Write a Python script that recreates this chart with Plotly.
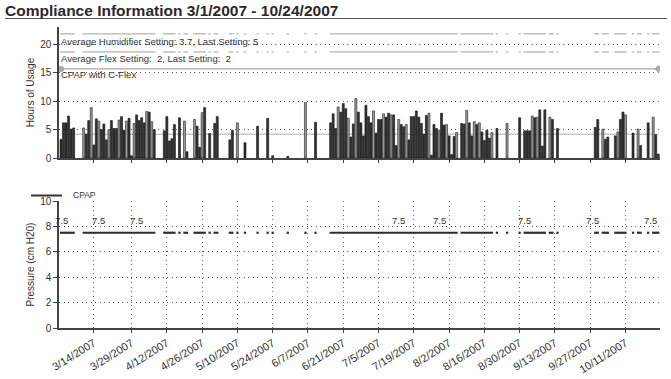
import plotly.graph_objects as go
import pandas as pd

# ---------------- data ----------------
start_date = "2007-03-01"
end_date = "2007-10-24"

# day offset from 3/1/2007 of each night with usage, and hours used
use_day = [0, 1, 2, 3, 4, 5, 9, 10, 11, 12, 13, 14, 15, 16, 17, 18, 19, 20, 21, 22,
           23, 24, 25, 26, 27, 28, 29, 30, 31, 32, 33, 34, 35, 36, 37, 41, 42, 43, 44, 45,
           47, 49, 50, 53, 54, 55, 56, 57, 59, 61, 62, 67, 68, 70, 73, 78, 82, 84, 90, 97,
           101, 107, 108, 109, 110, 111, 112, 113, 114, 115, 116, 117, 118, 119, 120, 121,
           122, 123, 124, 125, 126, 127, 128, 129, 130, 131, 132, 133, 134, 135, 136, 137,
           138, 139, 140, 141, 142, 143, 144, 145, 146, 147, 148, 149, 150, 151, 152, 153,
           154, 155, 156, 157, 159, 160, 161, 162, 163, 164, 165, 166, 167, 168, 169, 170,
           171, 173, 177, 182, 184, 185, 186, 187, 188, 189, 190, 191, 192, 194, 195, 197,
           212, 213, 215, 216, 217, 220, 221, 222, 223, 224, 227, 229, 230, 233, 235, 236, 237]
use_hours = [3.3, 6.2, 6.2, 7.4, 5.1, 5.3, 5.3, 4.2, 6.6, 8.9, 2.3, 6.9, 6.5, 5.0, 6.0, 3.2, 5.0, 6.6, 5.2, 5.2,
             6.7, 7.3, 4.9, 6.5, 7.0, 0.4, 6.1, 7.6, 6.6, 7.1, 6.2, 8.2, 8.1, 6.4, 5.0, 4.8, 7.3, 3.0, 3.4, 5.9,
             7.1, 6.5, 1.1, 6.8, 5.6, 1.9, 8.0, 8.9, 4.3, 6.1, 7.3, 3.2, 4.9, 6.2, 2.7, 5.6, 7.0, 0.4, 0.3, 9.8,
             6.3, 6.2, 7.8, 5.2, 9.0, 8.1, 9.6, 8.7, 7.0, 3.7, 6.0, 10.5, 8.1, 6.2, 3.9, 9.3,
             7.3, 6.2, 8.3, 4.4, 6.8, 6.8, 7.8, 7.2, 7.9, 7.6, 7.6, 2.2, 6.8, 5.9, 5.5, 5.9,
             3.2, 7.3, 7.3, 8.3, 7.2, 6.1, 4.2, 7.5, 7.9, 0.5, 5.9, 5.2, 4.9, 7.9, 5.8, 5.9,
             3.9, 0.6, 3.8, 4.5, 6.1, 6.0, 8.4, 6.2, 3.9, 6.4, 5.9, 6.2, 4.6, 3.1, 4.9, 3.5,
             4.5, 5.2, 6.1, 7.1, 4.8, 4.8, 4.8, 7.4, 7.1, 7.2, 8.5, 2.1, 8.5, 7.2, 6.8, 5.2,
             5.4, 6.8, 5.1, 3.3, 3.7, 3.9, 4.6, 6.8, 8.1, 7.6, 4.4, 5.1, 2.2, 6.2, 7.2, 4.1, 0.7]
# nights whose bar is printed in the lighter shade
light_day = [9, 12, 15, 19, 23, 26, 29, 34, 36, 49, 53, 56, 70, 97, 110, 114, 117, 124, 128,
             131, 134, 137, 146, 150, 153, 157, 161, 164, 166, 171, 177, 187, 189, 194, 215,
             221, 224, 229, 235]

avg_hours = 4.2
pressure_cm = 7.5
pressure_label_day = [0, 15, 30, 134, 150, 184, 211, 234]

tick_labels = ["3/14/2007", "3/29/2007", "4/12/2007", "4/26/2007", "5/10/2007", "5/24/2007",
               "6/7/2007", "6/21/2007", "7/5/2007", "7/19/2007", "8/2/2007", "8/16/2007",
               "8/30/2007", "9/13/2007", "9/27/2007", "10/11/2007"]

title_text = "Compliance Information 3/1/2007 - 10/24/2007"
humid_text = "Average Humidifier Setting: 3.7, Last Setting: 5"
flex_text = "Average Flex Setting:  2, Last Setting:  2"
mode_text = "CPAP with C-Flex"

# ---------------- build ----------------
t0 = pd.Timestamp(start_date)
t_end = pd.Timestamp(end_date)
DAY = pd.Timedelta(days=1)
tick_vals = [pd.to_datetime(s, format="%m/%d/%Y") for s in tick_labels]

dark_x, dark_y, light_x, light_y = [], [], [], []
for d, h in zip(use_day, use_hours):
    if d in light_day:
        light_x.append(t0 + d * DAY); light_y.append(h)
    else:
        dark_x.append(t0 + d * DAY); dark_y.append(h)

# segmented lines covering the nights with usage
def segments(level):
    xs, ys = [], []
    prev = None
    for d in use_day:
        if prev is not None and d != prev + 1:
            xs.append(None); ys.append(None)
        xs += [t0 + (d - 0.45) * DAY, t0 + (d + 0.45) * DAY]
        ys += [level, level]
        prev = d
    return xs, ys

# pixel helpers (figure 671 x 379)
W, H = 671, 379
L, R, T, B = 59, 11, 27, 51
PW, PH = W - L - R, H - T - B
def px(p):
    return (p - L) / PW
def py(q):
    return (H - B - q) / PH

fig = go.Figure()

width_ms = 0.8 * 86400000
fig.add_trace(go.Bar(x=dark_x, y=dark_y, width=width_ms,
                     marker=dict(color="#333333", line=dict(color="#111111", width=0.6)),
                     xaxis="x", yaxis="y", showlegend=False))
fig.add_trace(go.Bar(x=light_x, y=light_y, width=width_ms,
                     marker=dict(color="#9a9a9a", line=dict(color="#222222", width=0.6)),
                     xaxis="x", yaxis="y", showlegend=False))

# humidifier / flex setting bands in the top area
hx, hy = segments(21.9)
fig.add_trace(go.Scatter(x=hx, y=hy, mode="lines", line=dict(color="#b4b4b4", width=1.3),
                         xaxis="x", yaxis="y", showlegend=False, hoverinfo="skip"))
fx, fy = segments(18.7)
fig.add_trace(go.Scatter(x=fx, y=fy, mode="lines", line=dict(color="#b4b4b4", width=1.3),
                         xaxis="x", yaxis="y", showlegend=False, hoverinfo="skip"))
# therapy mode line
fig.add_trace(go.Scatter(x=[t0, t0 + use_day[-1] * DAY], y=[15.7, 15.7], mode="lines+markers",
                         line=dict(color="#a8a8a8", width=1.2),
                         marker=dict(symbol=["circle", "diamond"], size=6, color="#a8a8a8"),
                         xaxis="x", yaxis="y", showlegend=False, hoverinfo="skip"))

# pressure line
px_, py_ = segments(pressure_cm)
fig.add_trace(go.Scatter(x=px_, y=py_, mode="lines", line=dict(color="#2e2e2e", width=2.2),
                         xaxis="x2", yaxis="y2", showlegend=False))

annotations = []
for d in pressure_label_day:
    annotations.append(dict(x=t0 + d * DAY, y=8.5, xref="x2", yref="y2", text="7.5",
                            showarrow=False, xanchor="center", yanchor="middle",
                            font=dict(size=9.5, color="#333333")))
for txt, yv in [(humid_text, 20.5), (flex_text, 17.5), (mode_text, 14.7)]:
    annotations.append(dict(x=px(59), y=yv, xref="paper", yref="y", text=txt,
                            showarrow=False, xanchor="left", yanchor="middle",
                            font=dict(size=9.5, color="#333333")))
annotations.append(dict(x=px(71), y=py(195.5), xref="paper", yref="paper", text="CPAP",
                        showarrow=False, xanchor="left", yanchor="middle",
                        font=dict(size=8.5, color="#333333")))

shapes = [
    dict(type="line", xref="paper", yref="paper", x0=px(5), x1=px(667), y0=py(18.5), y1=py(18.5),
         line=dict(color="#555555", width=1.2)),
    dict(type="line", xref="paper", yref="paper", x0=px(31), x1=px(62), y0=py(195.5), y1=py(195.5),
         line=dict(color="#333333", width=2)),
    dict(type="line", xref="x", yref="y", x0=t0, x1=t_end, y0=avg_hours, y1=avg_hours,
         layer="between", line=dict(color="#c8c8c8", width=1.4)),
]

xrange = [t0 - 0.8 * DAY, t0 + 237.7 * DAY]
axis_font = dict(size=10, color="#333333")
dotted = "1px,3.5px"

fig.update_layout(
    width=W, height=H,
    margin=dict(l=L, r=R, t=T, b=B, autoexpand=False),
    paper_bgcolor="white", plot_bgcolor="white",
    font=dict(family="Liberation Sans, Arial, sans-serif", color="#333333"),
    barmode="overlay",
    title=dict(text="<b>" + title_text + "</b>", x=5 / W, xanchor="left", xref="container",
               y=1 - 10.5 / H, yanchor="middle", yref="container",
               font=dict(size=15.5, color="#2a2a2a")),
    xaxis=dict(domain=[0, 1], anchor="y", range=xrange, type="date", automargin=False,
               tickvals=tick_vals, showticklabels=False, ticks="outside", ticklen=3,
               tickcolor="#444", showgrid=False, showline=True, linecolor="#444", linewidth=1.5,
               zeroline=False),
    yaxis=dict(domain=[py(158), 1], anchor="x", range=[0, 23.1], automargin=False,
               tickvals=[0, 5, 10, 15, 20], ticks="outside", ticklen=4, tickcolor="#444",
               tickfont=axis_font, showline=True, linecolor="#444", linewidth=1.5,
               showgrid=True, gridcolor="#555555", griddash=dotted, gridwidth=1, zeroline=False,
               title=dict(text="Hours of Usage", font=dict(size=10, color="#333333"), standoff=4)),
    xaxis2=dict(domain=[0, 1], anchor="y2", range=xrange, type="date", automargin=False,
                tickvals=tick_vals, ticktext=tick_labels, tickangle=-32,
                tickfont=dict(size=11, color="#333333"), ticks="outside", ticklen=3,
                tickcolor="#444", showgrid=True, gridcolor="#666666", griddash=dotted, gridwidth=1,
                showline=True, linecolor="#444", linewidth=1.5, zeroline=False),
    yaxis2=dict(domain=[0, py(201)], anchor="x2", range=[0, 10], automargin=False,
                tickvals=[0, 2, 4, 6, 8, 10], ticks="outside", ticklen=4, tickcolor="#444",
                tickfont=axis_font, showline=True, linecolor="#444", linewidth=1.5,
                showgrid=True, gridcolor="#555555", griddash=dotted, gridwidth=1, zeroline=False,
                title=dict(text="Pressure (cm H20)", font=dict(size=10, color="#333333"), standoff=4)),
    annotations=annotations,
    shapes=shapes,
)

fig.write_html("out.html", config={"displayModeBar": False},
               post_script="document.body.style.margin='0';document.body.style.overflow='hidden';")
